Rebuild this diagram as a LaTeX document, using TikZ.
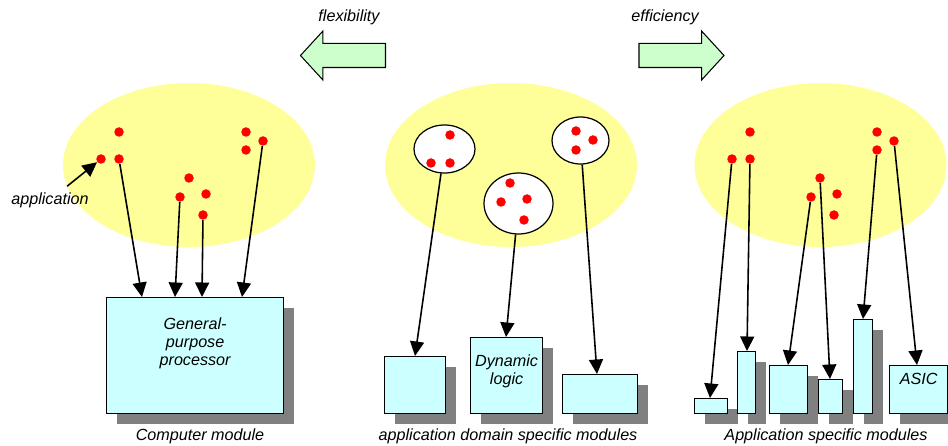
\documentclass[tikz,border=0pt]{standalone}
\usepackage{fontspec}
\setmainfont{Liberation Sans}
\usetikzlibrary{shapes.geometric, shapes.arrows, shadows, arrows.meta, calc}
\newlength\pxu
\setlength\pxu{0.02cm}
\definecolor{appyellow}{HTML}{FFFF99}
\definecolor{modcyan}{HTML}{CCFFFF}
\definecolor{trendgreen}{HTML}{CCFFCC}
\definecolor{shadowgray}{HTML}{808080}
\tikzset{
>={Triangle[length=0.29cm, width=0.28cm]},
  appspace/.style={
    ellipse,
    fill=appyellow,
    minimum width=252\pxu,
    minimum height=164\pxu,
    inner sep=0pt},
  app/.style={circle, fill=red, minimum size=9.5\pxu, inner sep=0pt},
  appgroup/.style={ellipse, draw=black, fill=white, line width=0.7pt, inner sep=0pt},
  module/.style={
    rectangle,
    draw=black, line width=0.7pt,
    fill=modcyan,
    inner sep=0pt,
    anchor=north west,
    drop shadow={shadow xshift=10\pxu, shadow yshift=-10\pxu, fill=shadowgray, opacity=1}},
  modtext/.style={anchor=north, align=center, inner sep=0pt},
  map/.style={draw, ->, line width=0.9pt},
  trend/.style={
    single arrow,
    draw=black, line width=0.6pt,
    fill=trendgreen,
    minimum height=85\pxu,
    single arrow head extend=12.5\pxu,
    single arrow tip angle=95,
    inner xsep=0pt, inner ysep=11.5\pxu},
}

\begin{document}
\begin{tikzpicture}[x=0.02cm, y=-0.02cm,
    every node/.append style={font=\fontsize{9.2}{10.5}\selectfont\itshape}]
     \useasboundingbox (0,0) rectangle (948,446);
     % trends
     \node[trend, shape border rotate=180] (FlexArrow) at (348.5,55.5) {};
     \node[trend] (EffArrow) at (676,55.5) {};
     \node (FlexText) at (349,17) {flexibility};
     \node (EffText)  at (665,17) {efficiency};
     % application spaces
     \node[appspace] (LeftSpace)  at (189,165) {};
     \node[appspace] (MidSpace)   at (511,165) {};
     \node[appspace] (RightSpace) at (820.5,165) {};
     \foreach \grp/\dx in {L/0, R/631}{
       \foreach \i/\x/\y in {1/119/132, 2/101/159, 3/119/159, 4/246/132, 5/246/150,
                             6/263/141, 7/189/178, 8/180/197, 9/206/194, 10/203/215}
         \node[app] (\grp\i) at (\x+\dx,\y) {};
     }
     % grouped applications
     \node[appgroup, minimum width=61\pxu, minimum height=48\pxu] (GroupA) at (444.5,149) {};
     \node[appgroup, minimum width=69\pxu, minimum height=61\pxu] (GroupB) at (518.5,203.5) {};
     \node[appgroup, minimum width=57\pxu, minimum height=47\pxu] (GroupC) at (580.5,140.5) {};
     \foreach \x/\y in {450/135, 431/163, 450/163, 510/183, 501/202, 527/199, 524/220,
                        576/131, 593/140, 576/150}
       \node[app] at (\x,\y) {};
     \node (AppText) at (50,200) {application};
     \draw[map] (AppText) -- (L2);
     % modules
     \node[module, minimum width=177\pxu, minimum height=116\pxu,
           label={[modtext, yshift=-20\pxu]north:General-\\purpose\\processor}] (GenProc) at (106,297) {};
     \node[module, minimum width=61\pxu, minimum height=57\pxu] (DomainA) at (384,356) {};
     \node[module, minimum width=72\pxu, minimum height=76\pxu,
           label={[modtext, yshift=-17\pxu]north:Dynamic\\logic}] (DynLogic) at (470,337) {};
     \node[module, minimum width=75\pxu, minimum height=39\pxu] (DomainC) at (562,374) {};
     \node[module, minimum width=33\pxu, minimum height=15\pxu] (SpecA) at (694,398) {};
     \node[module, minimum width=18\pxu, minimum height=62\pxu] (SpecB) at (737,351) {};
     \node[module, minimum width=38\pxu, minimum height=48\pxu] (SpecC) at (769,365) {};
     \node[module, minimum width=24\pxu, minimum height=34\pxu] (SpecD) at (818,379) {};
     \node[module, minimum width=19\pxu, minimum height=94\pxu] (SpecE) at (853,319) {};
     \node[module, minimum width=58\pxu, minimum height=48\pxu,
           label={[modtext, yshift=-8\pxu]north:ASIC}] (Asic) at (889,365) {};
     % mappings
     \draw[map] (L3)  -- ($(GenProc.north west)+(36,0)$);
     \draw[map] (L8)  -- ($(GenProc.north west)+(69,0)$);
     \draw[map] (L10) -- ($(GenProc.north west)+(96,0)$);
     \draw[map] (L6)  -- ($(GenProc.north west)+(136,0)$);
     \draw[map] (GroupA) -- ($(DomainA.north west)+(31,0)$);
     \draw[map] (GroupB) -- ($(DynLogic.north west)+(36,0)$);
     \draw[map] (GroupC) -- ($(DomainC.north west)+(35,0)$);
     \draw[map] (R2) -- ($(SpecA.north west)+(16,0)$);
     \draw[map] (R3) -- ($(SpecB.north west)+(10,0)$);
     \draw[map] (R8) -- ($(SpecC.north west)+(19,0)$);
     \draw[map] (R7) -- ($(SpecD.north west)+(12,0)$);
     \draw[map] (R5) -- ($(SpecE.north west)+(10,0)$);
     \draw[map] (R6) -- ($(Asic.north west)+(28,0)$);
     % captions
     \node (CompText)   at (200,436) {Computer module};
     \node (DomainText) at (508,436) {application domain specific modules};
     \node (SpecText)   at (826,436) {Application specific modules};
\end{tikzpicture}
\end{document}
